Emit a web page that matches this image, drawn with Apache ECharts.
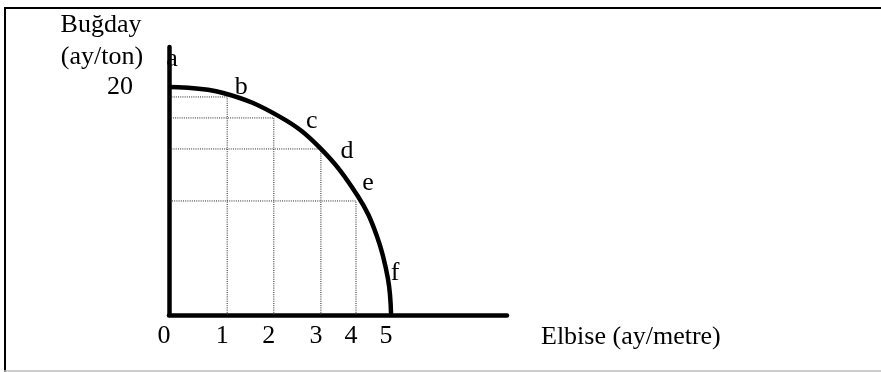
<!DOCTYPE html>
<html>
<head>
<meta charset="utf-8">
<script src="https://cdn.jsdelivr.net/npm/echarts@6/dist/echarts.min.js"></script>
<style>
html,body{margin:0;padding:0;background:#fff;}
#c{width:881px;height:372px;}
</style>
</head>
<body>
<div id="c"></div>
<script>
// ---- data ----
// x tick labels (Elbise, ay/metre) and where each sits on the drawn x axis
var xTickLabels = ['0', '1', '2', '3', '4', '5'];
var xTickPos = [0, 1.31, 2.36, 3.42, 4.21, 5];
// y tick label (Buğday, ay/ton)
var yTickLabels = ['20'];
var yTickPos = [20];
// production possibility points a..f
var pointNames = ['a', 'b', 'c', 'd', 'e', 'f'];
var pointX = [0, 1.31, 2.36, 3.42, 4.21, 5];
var pointY = [20, 19.12, 17.28, 14.56, 10.0, 0];
// frontier curve
var curveX = [0, 1.22, 2.50, 3.40, 4.25, 4.68, 4.93, 5];
var curveY = [20, 19.47, 17.37, 14.65, 10.44, 6.93, 3.16, 0];
var xTitle = 'Elbise (ay/metre)';
var yTitle = ['Buğday', '(ay/ton)'];

// ---- build ----
var FONT = '"Liberation Serif", "Times New Roman", serif';
var chart = echarts.init(document.getElementById('c'));

var curveData = curveX.map(function (x, i) { return [x, curveY[i]]; });
var guideSeries = [];
for (var i = 1; i < pointNames.length - 1; i++) {
  guideSeries.push({
    type: 'line', silent: true, symbol: 'none', z: 1,
    lineStyle: { color: '#222', width: 1, type: [1, 1.2] },
    data: [[pointX[i], 0], [pointX[i], pointY[i]], [0, pointY[i]]]
  });
}
var labelOffsets = [[3, -28], [14, -10], [38, 3], [26, 2], [12, -18], [4, -42]];
var pointData = pointNames.map(function (n, i) {
  return {
    value: [pointX[i], pointY[i]],
    name: n,
    label: { offset: labelOffsets[i] }
  };
});

var option = {
  backgroundColor: '#fff',
  animation: false,
  grid: { left: 169, right: 374, top: 47, bottom: 57 },
  xAxis: {
    type: 'value', min: 0, max: 7.61,
    splitLine: { show: false },
    axisTick: { show: false },
    axisLine: { show: true, onZero: false, lineStyle: { color: '#000', width: 4.5 } },
    axisLabel: {
      customValues: xTickPos,
      formatter: function (v) {
        var k = xTickPos.indexOf(v);
        return k >= 0 ? xTickLabels[k] : '';
      },
      color: '#000', fontFamily: FONT, fontSize: 26, margin: 8,
      padding: [0, 10, 0, 0]
    }
  },
  yAxis: {
    type: 'value', min: 0, max: 23.5,
    splitLine: { show: false },
    axisTick: { show: false },
    axisLine: { show: true, onZero: false, lineStyle: { color: '#000', width: 4.5 } },
    axisLabel: {
      customValues: yTickPos,
      formatter: function (v) {
        var k = yTickPos.indexOf(v);
        return k >= 0 ? yTickLabels[k] : '';
      },
      color: '#000', fontFamily: FONT, fontSize: 26, margin: 36
    }
  },
  series: guideSeries.concat([
    {
      type: 'line', silent: true, symbol: 'none', smooth: 0.4, z: 3,
      lineStyle: { color: '#000', width: 4.5 },
      data: curveData
    },
    {
      type: 'scatter', silent: true, symbolSize: 0, z: 4,
      itemStyle: { opacity: 1, color: '#000' },
      data: pointData,
      label: {
        show: true, position: 'inside', opacity: 1,
        formatter: function (p) { return p.name; },
        color: '#000', fontFamily: FONT, fontSize: 26
      }
    }
  ]),
  graphic: [
    { type: 'line', shape: { x1: 4, y1: 8, x2: 881, y2: 8 }, style: { stroke: '#000', lineWidth: 2 } },
    { type: 'line', shape: { x1: 5, y1: 8, x2: 5, y2: 372 }, style: { stroke: '#000', lineWidth: 2 } },
    { type: 'line', shape: { x1: 4, y1: 371, x2: 881, y2: 371 }, style: { stroke: '#bbb', lineWidth: 1.5 } },
    { type: 'text', style: { text: yTitle[0], x: 101, y: 25, align: 'center', verticalAlign: 'middle', fill: '#000', font: '26px ' + FONT } },
    { type: 'text', style: { text: yTitle[1], x: 102, y: 57, align: 'center', verticalAlign: 'middle', fill: '#000', font: '26px ' + FONT } },
    { type: 'text', style: { text: xTitle, x: 541, y: 337, align: 'left', verticalAlign: 'middle', fill: '#000', font: '26px ' + FONT } }
  ]
};
chart.setOption(option);
</script>
</body>
</html>
